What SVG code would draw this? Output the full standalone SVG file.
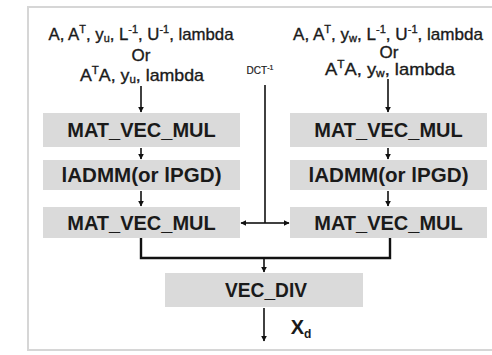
<svg xmlns="http://www.w3.org/2000/svg" width="492" height="355" viewBox="0 0 492 355">
<defs>
<style>
.frame{fill:none;stroke:#d6d6d6;stroke-width:2}
.box{fill:#dadada}
.lbl{font-family:"Liberation Sans",Arial,sans-serif;font-size:20px;font-weight:bold;fill:#1a1a1a;text-anchor:middle}
.inp{font-family:"Liberation Sans",Arial,sans-serif;font-size:17px;fill:#1a1a1a;stroke:#1a1a1a;stroke-width:0.35;text-anchor:middle}
.sm{font-size:11px}
.ln{fill:none;stroke:#111;stroke-width:1.6}
.br{fill:none;stroke:#111;stroke-width:2.4}
</style>
<marker id="ah" viewBox="0 0 10 10" refX="9" refY="5" markerWidth="6" markerHeight="6" orient="auto" markerUnits="userSpaceOnUse">
<path d="M0,0 L10,5 L0,10 z" fill="#111"/>
</marker>
</defs>
<rect class="frame" x="28" y="7" width="480" height="343"/>

<g id="input-left">
<text class="inp" x="141" y="40" textLength="185" lengthAdjust="spacingAndGlyphs">A, A<tspan class="sm" dy="-7">T</tspan><tspan dy="7">, y</tspan><tspan class="sm" dy="2">u</tspan><tspan dy="-2">, L</tspan><tspan class="sm" dy="-7">-1</tspan><tspan dy="7">, U</tspan><tspan class="sm" dy="-7">-1</tspan><tspan dy="7">, lambda</tspan></text>
<text class="inp" x="141" y="61">Or</text>
<text class="inp" x="142" y="81" textLength="124" lengthAdjust="spacingAndGlyphs">A<tspan class="sm" dy="-7">T</tspan><tspan dy="7">A, y</tspan><tspan class="sm" dy="2">u</tspan><tspan dy="-2">, lambda</tspan></text>
</g>
<g id="input-right">
<text class="inp" x="388" y="40" textLength="190" lengthAdjust="spacingAndGlyphs">A, A<tspan class="sm" dy="-7">T</tspan><tspan dy="7">, y</tspan><tspan class="sm" dy="2">w</tspan><tspan dy="-2">, L</tspan><tspan class="sm" dy="-7">-1</tspan><tspan dy="7">, U</tspan><tspan class="sm" dy="-7">-1</tspan><tspan dy="7">, lambda</tspan></text>
<text class="inp" x="389" y="58">Or</text>
<text class="inp" x="390" y="75" textLength="130" lengthAdjust="spacingAndGlyphs">A<tspan class="sm" dy="-7">T</tspan><tspan dy="7">A, y</tspan><tspan class="sm" dy="2">w</tspan><tspan dy="-2">, lambda</tspan></text>
</g>
<g id="dct-label">
<text class="inp" x="260" y="74" style="font-size:10px;stroke-width:0.2">DCT<tspan style="font-size:7px" dy="-4">-1</tspan></text>
</g>

<g id="mvm1-left"><rect class="box" x="43" y="113" width="197" height="34"/><text class="lbl" x="141.5" y="137">MAT_VEC_MUL</text></g>
<g id="admm-left"><rect class="box" x="43" y="160" width="197" height="30"/><text class="lbl" x="141.5" y="182" textLength="160" lengthAdjust="spacingAndGlyphs">lADMM(or lPGD)</text></g>
<g id="mvm2-left"><rect class="box" x="43" y="207" width="197" height="31"/><text class="lbl" x="141.5" y="230">MAT_VEC_MUL</text></g>

<g id="mvm1-right"><rect class="box" x="290" y="113" width="197" height="34"/><text class="lbl" x="388.5" y="137">MAT_VEC_MUL</text></g>
<g id="admm-right"><rect class="box" x="290" y="160" width="197" height="30"/><text class="lbl" x="388.5" y="182" textLength="160" lengthAdjust="spacingAndGlyphs">lADMM(or lPGD)</text></g>
<g id="mvm2-right"><rect class="box" x="290" y="207" width="197" height="31"/><text class="lbl" x="388.5" y="230">MAT_VEC_MUL</text></g>

<g id="vecdiv"><rect class="box" x="165" y="273" width="198" height="34"/><text class="lbl" x="266" y="297" textLength="82" lengthAdjust="spacingAndGlyphs">VEC_DIV</text></g>

<g id="output-label"><text class="lbl" x="301" y="334">X<tspan style="font-size:12px" dy="4">d</tspan></text></g>

<g id="connectors">
<line class="ln" x1="141" y1="86" x2="141" y2="112" marker-end="url(#ah)"/>
<line class="ln" x1="388" y1="79" x2="388" y2="112" marker-end="url(#ah)"/>
<line class="ln" x1="141" y1="148" x2="141" y2="159" marker-end="url(#ah)"/>
<line class="ln" x1="141" y1="191" x2="141" y2="206" marker-end="url(#ah)"/>
<line class="ln" x1="388" y1="148" x2="388" y2="159" marker-end="url(#ah)"/>
<line class="ln" x1="388" y1="191" x2="388" y2="206" marker-end="url(#ah)"/>
<line class="ln" x1="265" y1="85" x2="265" y2="223"/>
<line class="ln" x1="265" y1="223" x2="241" y2="223" marker-end="url(#ah)"/>
<line class="ln" x1="265" y1="223" x2="289" y2="223" marker-end="url(#ah)"/>
<polyline class="br" points="141,238 141,258 390,258 390,238"/>
<line class="ln" x1="264" y1="258" x2="264" y2="272" marker-end="url(#ah)"/>
<line class="ln" x1="264" y1="308" x2="264" y2="341" marker-end="url(#ah)"/>
</g>
</svg>
